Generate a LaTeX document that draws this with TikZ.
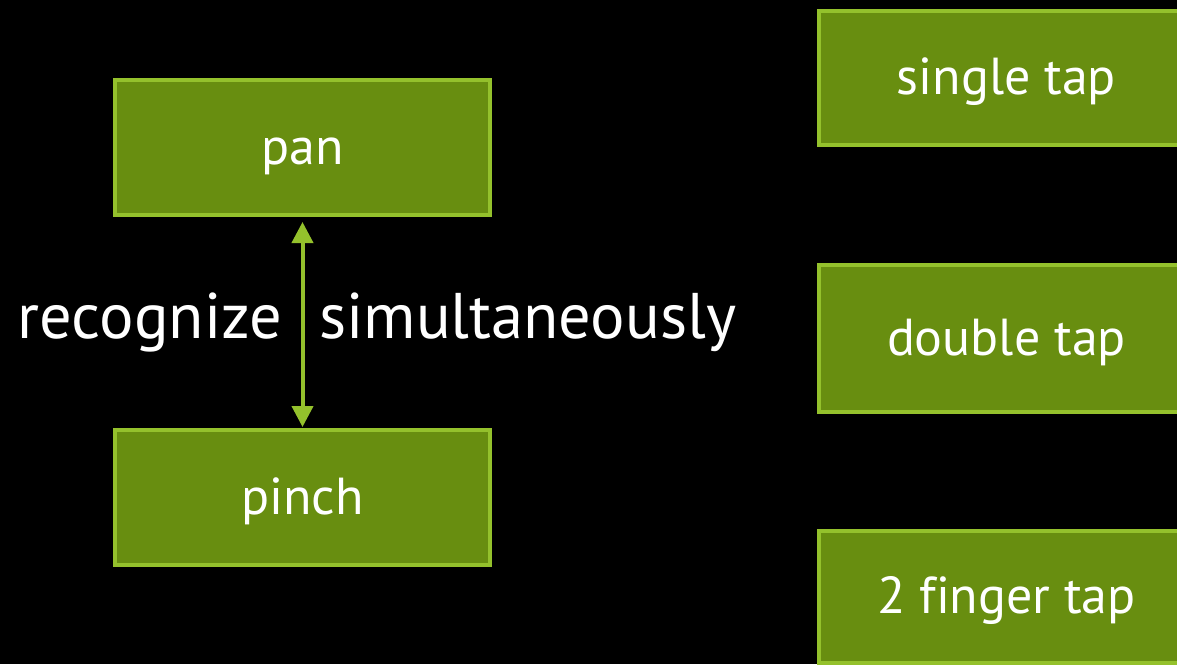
\documentclass[tikz,border=0pt]{standalone}
\usepackage{fontspec}
\setmainfont{PT Sans}[Ligatures=NoCommon]
\usetikzlibrary{arrows.meta}

\definecolor{gesturefill}{HTML}{688E10}
\definecolor{gestureline}{HTML}{94C12C}

\tikzset{
	gesture/.style={draw=gestureline, fill=gesturefill, line width=4pt,
		minimum width=375pt, minimum height=135pt, inner sep=0pt,
		text=white, font=\fontsize{52}{60}\selectfont,
		text height=49pt, text depth=16pt},
	caption/.style={text=white, inner sep=0pt, font=\fontsize{64.5}{75}\selectfont},
	both ways/.style={draw=gestureline, line width=4pt,
		{Triangle[length=21pt,width=21pt]}-{Triangle[length=21pt,width=21pt]},
		shorten <=5pt, shorten >=1pt}
}

\begin{document}
\begin{tikzpicture}[x=1pt, y=-1pt]
	% Background
	\fill[black] (0,0) rectangle (1177,664);
	\useasboundingbox (0,0) rectangle (1177,664);
	\clip (0,0) rectangle (1177,664);

	% Pan / pinch pair
	\node[gesture] (pan) at (302.5,147.5) {pan};
	\node[gesture] (pinch) at (302.5,497.5) {pinch};
	\draw[both ways] (pan) -- (pinch);
	\node[caption, anchor=base east] (recognize) at (282,338) {recognize};
	\node[caption, anchor=base west] (simul) at (319,338) {simultaneously};

	% Taps, cut at the right edge
	\node[gesture, minimum height=134pt] (single) at (1006.5,78) {single tap};
	\node[gesture, minimum height=147pt] (double) at (1006.5,338.5) {double tap};
	\node[gesture, minimum height=132pt] (twofinger) at (1006.5,597) {2 finger tap};
\end{tikzpicture}
\end{document}
